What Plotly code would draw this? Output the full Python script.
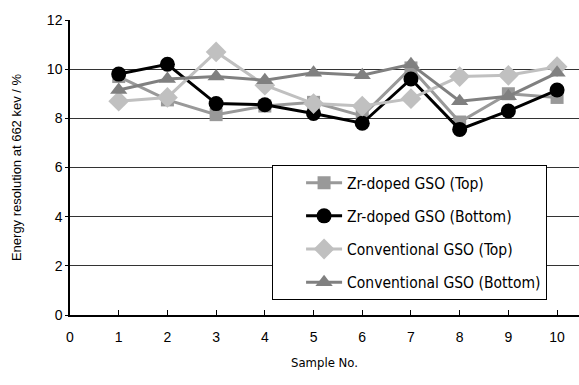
import plotly.graph_objects as go

# Sample numbers and measured energy resolution (%) at 662 keV
samples = [1, 2, 3, 4, 5, 6, 7, 8, 9, 10]
zr_top = [9.7, 8.75, 8.15, 8.5, 8.65, 8.1, 10.05, 7.85, 9.0, 8.85]
zr_bottom = [9.8, 10.2, 8.6, 8.55, 8.2, 7.8, 9.6, 7.55, 8.3, 9.15]
conv_top = [8.7, 8.85, 10.7, 9.35, 8.6, 8.5, 8.8, 9.7, 9.75, 10.1]
conv_bottom = [9.15, 9.6, 9.7, 9.55, 9.85, 9.75, 10.2, 8.7, 8.9, 9.85]

series = [
    ("Zr-doped GSO (Top)", zr_top, "#999999", "square", 13),
    ("Zr-doped GSO (Bottom)", zr_bottom, "#000000", "circle", 15),
    ("Conventional GSO (Top)", conv_top, "#c0c0c0", "diamond", 16),
    ("Conventional GSO (Bottom)", conv_bottom, "#808080", "triangle-up", 15),
]

fig = go.Figure()
for i, (name, vals, color, sym, size) in enumerate(series):
    fig.add_trace(go.Scatter(
        x=samples, y=vals, name=name, mode="lines+markers",
        line=dict(color=color, width=3),
        marker=dict(symbol=sym, size=size, color=color),
        legendgroup=f"g{i}",
    ))

narrow = "DejaVu Sans Condensed, Liberation Sans Narrow, Arial Narrow, sans-serif"
fig.update_layout(
    width=579, height=385,
    margin=dict(l=70, r=0, t=20, b=70),
    plot_bgcolor="white", paper_bgcolor="white",
    font=dict(family="Liberation Sans, Arial, sans-serif", size=14, color="black"),
    showlegend=True,
    legend=dict(
        x=0.397, y=0.508, xanchor="left", yanchor="top",
        bgcolor="white", bordercolor="black", borderwidth=1,
        font=dict(family=narrow, size=15.5, color="black"),
        tracegroupgap=10, itemwidth=36, indentation=28,
    ),
    xaxis=dict(
        range=[0, 10.45], tickmode="array", tickvals=list(range(0, 11)),
        showgrid=False, zeroline=False,
        showline=True, linecolor="black", linewidth=1.5,
        ticks="inside", ticklen=5, tickcolor="black",
        ticklabelstandoff=8,
        title=dict(text="Sample No.", font=dict(family=narrow, size=13), standoff=14),
    ),
    yaxis=dict(
        range=[0, 12], tickmode="array", tickvals=list(range(0, 13, 2)),
        showgrid=True, gridcolor="#333333", gridwidth=1, zeroline=False,
        showline=True, linecolor="black", linewidth=1.5,
        ticks="outside", ticklen=3, tickcolor="black",
        title=dict(text="Energy resolution at 662 kev / %", font=dict(size=13), standoff=22),
    ),
)

fig.write_html("out.html")
